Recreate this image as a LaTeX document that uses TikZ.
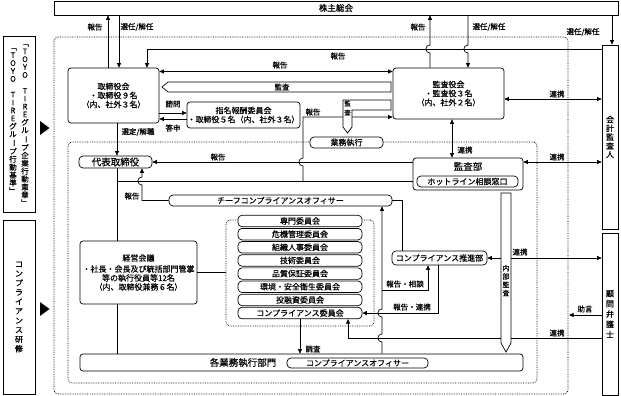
\documentclass[tikz,border=0pt]{standalone}
\usepackage{fontspec}
\setmainfont{Noto Sans CJK JP}[FakeBold=0.4]
\usepackage{graphicx}
\usepackage{tikz}
\usetikzlibrary{arrows.meta}

\tikzset{
  box/.style={draw, fill=white, rounded corners=3pt, inner sep=0pt, align=center,
    font=\fontsize{8}{9}\selectfont},
  sqbox/.style={box, rounded corners=0pt},
  pill/.style={draw, fill=white, rounded corners=4pt, inner sep=0pt,
    font=\fontsize{8}{9}\selectfont},
  lbl/.style={inner sep=0pt, font=\fontsize{7.5}{8}\selectfont},
  big/.style={font=\fontsize{9.5}{10}\selectfont},
  tate/.style={inner sep=0pt, align=center},
  dotbox/.style={densely dotted, rounded corners=4pt},
  arr/.style={-{Triangle[length=4.5pt,width=4pt]}},
  rarr/.style={{Triangle[length=4.5pt,width=4pt]}-},
  darr/.style={{Triangle[length=4.5pt,width=4pt]}-{Triangle[length=4.5pt,width=4pt]}}
}
% jump over a horizontal line (vertical line going down)
\newcommand{\hop}[2]{-- (#1,#2-4) .. controls (#1-5.5,#2-4) and (#1-5.5,#2+4) .. (#1,#2+4)}
\newcommand{\nobasu}{\rotatebox[origin=c]{-90}{ー}}

\begin{document}
\begin{tikzpicture}[x=1pt, y=-1pt, line width=0.7pt]
  \useasboundingbox (0,0) rectangle (621,396);

  % frames
  \draw[dotbox] (54,37) rectangle (568,394);
  \draw[dotbox] (68,142) rectangle (537,383);
  \node[draw, dotbox, minimum width=148pt, minimum height=106pt] (iinwaku) at (300,273) {};

  % left side
  \node[draw, minimum width=32pt, minimum height=176pt, inner sep=0pt] (kodo) at (19,124) {};
  \node[tate, font=\fontsize{7.5}{7.9}\selectfont] (kensho) at (25,125)
    {﹁\\T\\O\\Y\\O\\[7.9pt]T\\I\\R\\E\\グ\\ル\\\nobasu\\プ\\企\\業\\行\\動\\憲\\章\\﹂};
  \node[tate, font=\fontsize{7.5}{7.9}\selectfont] (kijun) at (13,121)
    {﹁\\T\\O\\Y\\O\\[7.9pt]T\\I\\R\\E\\グ\\ル\\\nobasu\\プ\\行\\動\\基\\準\\﹂};
  \fill (40,121) -- (49.5,128) -- (40,135) -- cycle;
  \node[draw, tate, minimum width=32pt, minimum height=174pt, font=\fontsize{8}{9.4}\selectfont] (kenshu) at (19,307)
    {コ\\ン\\プ\\ラ\\イ\\ア\\ン\\ス\\研\\修};
  \fill (40,302) -- (49.5,309) -- (40,316) -- cycle;

  % boxes
  \node[sqbox, minimum width=564pt, minimum height=14pt, font=\fontsize{8.5}{9}\selectfont] (kabu) at (336,8) {株主総会};
  \node[box, minimum width=91pt, minimum height=55pt] (torishimari) at (113.5,95.5)
    {取締役会\\・取締役９名\\（内、社外３名）};
  \node[box, minimum width=111pt, minimum height=51pt] (kansayaku) at (448.5,93.5)
    {監査役会\\・監査役３名\\（内、社外２名）};
  \node[box, minimum width=113pt, minimum height=26pt] (shimei) at (243.5,115)
    {指名報酬委員会\\・取締役５名（内、社外３名）};
  \node[sqbox, minimum width=16pt, minimum height=184pt, font=\fontsize{8}{8.75}\selectfont] (kaikei) at (610,137)
    {会\\計\\監\\査\\人};
  \node[sqbox, minimum width=16pt, minimum height=162pt, font=\fontsize{8}{10.3}\selectfont] (komon) at (610,314)
    {顧\\問\\弁\\護\\士};
  \node[pill, big, minimum width=73pt, minimum height=12pt] (daihyo) at (115.5,162) {代表取締役};
  \node[box, minimum width=110pt, minimum height=32pt] (kansabu) at (468,174) {};
  \node[big, inner sep=0pt] (kansabutxt) at (468,166.5) {監査部};
  \node[pill, minimum width=101pt, minimum height=11pt] (hotline) at (467.5,181.5) {ホットライン相談窓口};
  \node[pill, minimum width=73pt, minimum height=11pt] (shikko) at (346.5,142.5) {業務執行};
  \node[pill, minimum width=223pt, minimum height=11pt] (cco) at (280.5,200.5) {チーフコンプライアンスオフィサー};
  \foreach \iname [count=\i from 0] in {専門委員会, 危機管理委員会, 組織人事委員会, 技術委員会,
      品質保証委員会, 環境・安全衛生委員会, 投融資委員会, コンプライアンス委員会}
    \node[pill, minimum width=124pt, minimum height=11.5pt] (iin\i) at (300,221+13.15*\i) {\iname};
  \node[box, minimum width=117pt, minimum height=63pt] (keiei) at (138.5,272.5)
    {経営会議\\[2pt]・社長・会長及び統括部門管掌\\等の執行役員等12名\\（内、取締役兼務６名）};
  \node[pill, minimum width=95pt, minimum height=14pt] (suishin) at (439.5,258) {コンプライアンス推進部};
  \node[box, minimum width=443pt, minimum height=17pt] (gyomu) at (301.5,362.5) {};
  \node[big, inner sep=0pt] (gyomutxt) at (243,362.5) {各業務執行部門};
  \node[pill, minimum width=141pt, minimum height=10pt] (co) at (357.5,363) {コンプライアンスオフィサー};

  % connectors
  \draw[rarr] (kabu.south -| 108,0) -- (torishimari.north -| 108,0);
  \draw[arr] (kabu.south -| 119,0) -- (torishimari.north -| 119,0);
  \draw[rarr] (kabu.south -| 430,0) \hop{430}{49} -- (kansayaku.north -| 430,0);
  \draw[arr] (kabu.south -| 468,0) \hop{468}{49} -- (kansayaku.north -| 468,0);
  \draw[arr] (kabu.south -| 612,0) -- (kaikei.north -| 612,0);
  \draw[arr] (kaikei.west |- 0,49) -- (147,49) -- (torishimari.north -| 147,0);
  \draw[darr] (torishimari.east |- 0,71.5) -- (kansayaku.west |- 0,71.5);
  \draw[arr] (torishimari.east |- 0,113) -- (shimei.west |- 0,113);
  \draw[rarr] (torishimari.east |- 0,119) -- (shimei.west |- 0,119);
  \draw[arr] (torishimari.south -| 117,0) -- (daihyo.north -| 117,0);
  \draw (daihyo.south -| 117,0) -- (keiei.north -| 117,0);
  \draw (keiei.south -| 117,0) -- (gyomu.north -| 117,0);
  \coordinate (bunki) at (117,181);
  \draw (bunki) -- (kansabu.west |- bunki);
  \draw[arr] (kansabu.west |- daihyo.east) -- (daihyo.east);
  \draw[rarr] (kansayaku.west |- 0,117) -- (303,117) \hop{303}{162} -- (bunki -| 303,0);
  \draw[rarr] (daihyo.south -| 142,0) \hop{142}{181} -- (cco.west -| 142,0) -- (cco.west);
  \draw (keiei.east) -- (keiei.east -| iinwaku.west);
  \draw[arr] (iin7.south) -- (iin7.south |- gyomu.north);
  \draw[rarr] (cco.south -| 382,0) \hop{382}{313} \hop{382}{338} -- (gyomu.north -| 382,0);
  \coordinate (soudan) at (382,290);
  \draw[arr] (soudan) -- (soudan -| 428,0) -- (suishin.south -| 428,0);
  \draw[arr] (suishin.south -| 438,0) -- (438,0 |- iin7.east) -- (iin7.east);
  \draw (cco.east) -- (cco.east -| 402,0) -- (suishin.north -| 402,0);
  \draw[darr] (kansayaku.south -| 452,0) -- (kansabu.north -| 452,0);
  \draw[darr] (kansayaku.east |- 0,99) -- (kaikei.west |- 0,99);
  \draw[darr] (kansabu.east |- daihyo.east) -- (kaikei.west |- daihyo.east);
  \draw[darr] (suishin.east) -- (suishin.east -| komon.west);
  \coordinate (jogen) at (569,315);
  \draw[arr] (komon.west |- jogen) -- (jogen);
  \draw[arr] (komon.west |- 0,338) -- (348,338) -- (iin7.south -| 348,0);

  % hollow arrows
  \draw[fill=white] (391,82) -- (168,82) -- (162,87) -- (168,92) -- (391,92) -- cycle;
  \node[lbl] (kansa1) at (282,87) {監査};
  \draw[fill=white] (391,100) -- (343,100) -- (343,127) -- (347.5,133) -- (352,127) -- (352,110) -- (391,110) -- cycle;
  \node[tate, font=\fontsize{6.5}{9}\selectfont] (kansa2) at (347.5,108) {監\\査};
  \draw[fill=white] (501,193) -- (511,193) -- (511,343) -- (506,352) -- (501,343) -- cycle;
  \node[tate, font=\fontsize{7}{8.3}\selectfont] (naibu) at (506,280.5) {内\\部\\監\\査};

  % labels
  \node[lbl] (l1) at (95,27) {報告};
  \node[lbl] (l2) at (137,27) {選任/解任};
  \node[lbl] (l3) at (418,27) {報告};
  \node[lbl] (l4) at (489,27) {選任/解任};
  \node[lbl] (l5) at (583,32) {選任/解任};
  \node[lbl] (l6) at (338,56) {報告};
  \node[lbl] (l7) at (280,65) {報告};
  \node[lbl] (l8) at (173,104) {諮問};
  \node[lbl] (l9) at (173,128) {答申};
  \node[lbl] (l10) at (313,112) {報告};
  \node[lbl] (l11) at (138,132) {選定/解職};
  \node[lbl] (l12) at (465,150) {連携};
  \node[lbl] (l13) at (218,157) {報告};
  \node[lbl] (l14) at (557,94) {連携};
  \node[lbl] (l15) at (557,157) {連携};
  \node[lbl] (l16) at (132,196) {報告};
  \node[lbl] (l17) at (520,252) {連携};
  \node[lbl] (l18) at (405,284) {報告・相談};
  \node[lbl] (l19) at (412,307) {報告・連携};
  \node[lbl] (l20) at (585,309) {助言};
  \node[lbl] (l21) at (557,333) {連携};
  \node[lbl] (l22) at (313,349) {調査};
\end{tikzpicture}
\end{document}
